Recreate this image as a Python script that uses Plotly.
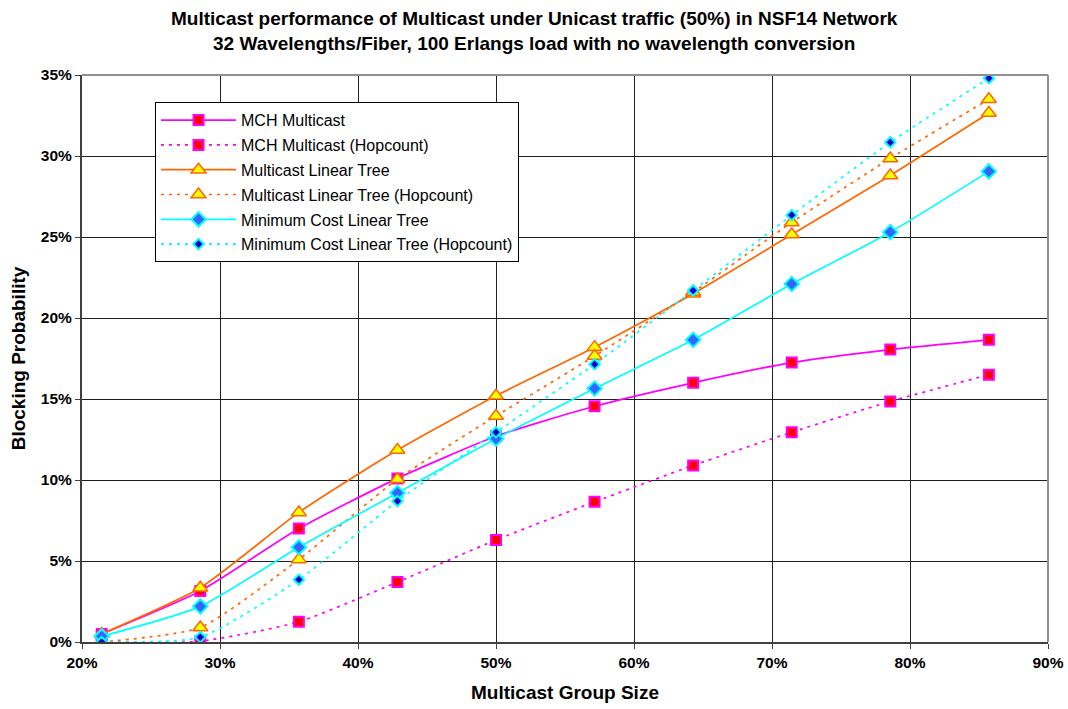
import plotly.graph_objects as go

# Multicast group size as a fraction of the 14 NSF nodes
group_size = [3/14, 4/14, 5/14, 6/14, 7/14, 8/14, 9/14, 10/14, 11/14, 12/14]

# Blocking probability (%) per algorithm
mch = [0.5, 3.15, 7.0, 10.1, 12.7, 14.55, 16.0, 17.25, 18.05, 18.65]
mch_hop = [0.0, 0.05, 1.25, 3.7, 6.3, 8.65, 10.9, 12.95, 14.85, 16.5]
mlt = [0.5, 3.35, 8.0, 11.85, 15.2, 18.2, 21.5, 25.15, 28.8, 32.65]
mlt_hop = [0.0, 0.9, 5.1, 10.05, 13.95, 17.65, 21.6, 25.9, 29.85, 33.5]
mclt = [0.35, 2.2, 5.85, 9.2, 12.55, 15.65, 18.65, 22.1, 25.3, 29.05]
mclt_hop = [0.0, 0.3, 3.85, 8.7, 12.95, 17.15, 21.7, 26.35, 30.85, 34.8]

x_ticks = [0.2, 0.3, 0.4, 0.5, 0.6, 0.7, 0.8, 0.9]
x_tick_text = ["20%", "30%", "40%", "50%", "60%", "70%", "80%", "90%"]
y_ticks = [0, 5, 10, 15, 20, 25, 30, 35]
y_tick_text = ["0%", "5%", "10%", "15%", "20%", "25%", "30%", "35%"]

title_lines = [
    "Multicast performance of Multicast under Unicast traffic (50%) in NSF14 Network",
    "32 Wavelengths/Fiber, 100 Erlangs load with no wavelength conversion",
]

FONT = "Liberation Sans, Arial, sans-serif"
DOTTED = "3px,5px"

series = [
    ("MCH Multicast", mch, "#FF00FF", "solid",
     dict(symbol="square", size=10, color="#FF0000", line=dict(color="#FF00FF", width=2))),
    ("MCH Multicast (Hopcount)", mch_hop, "#FF00FF", DOTTED,
     dict(symbol="square", size=10, color="#FF0000", line=dict(color="#FF00FF", width=2))),
    ("Multicast Linear Tree", mlt, "#FF6600", "solid",
     dict(symbol="triangle-up", size=13, color="#FFFF00", line=dict(color="#FF6600", width=1.5))),
    ("Multicast Linear Tree (Hopcount)", mlt_hop, "#FF6600", DOTTED,
     dict(symbol="triangle-up", size=13, color="#FFFF00", line=dict(color="#FF6600", width=1.5))),
    ("Minimum Cost Linear Tree", mclt, "#00FFFF", "solid",
     dict(symbol="diamond", size=11, color="#3366FF", line=dict(color="#00FFFF", width=2))),
    ("Minimum Cost Linear Tree (Hopcount)", mclt_hop, "#00FFFF", DOTTED,
     dict(symbol="diamond", size=8, color="#0000CC", line=dict(color="#00FFFF", width=2))),
]

fig = go.Figure()
for i, (name, vals, color, dash, marker) in enumerate(series):
    fig.add_trace(go.Scatter(
        x=group_size, y=vals, name=name, mode="lines+markers",
        line=dict(color=color, width=1.7, dash=dash, shape="spline", smoothing=0.6),
        marker=marker, legendgroup=f"g{i}",
    ))

fig.update_layout(
    width=1068, height=709,
    margin=dict(l=82, r=20, t=75, b=67),
    paper_bgcolor="white", plot_bgcolor="white",
    font=dict(family=FONT, color="black"),
    showlegend=True,
    legend=dict(
        x=0.0756, y=0.952, xanchor="left", yanchor="top",
        bgcolor="white", bordercolor="black", borderwidth=1,
        font=dict(size=16, family=FONT),
        tracegroupgap=1, itemwidth=75,
    ),
)

# Two-line bold title centred on the page
for text, ypx in zip(title_lines, [18, 44]):
    fig.add_annotation(
        text=f"<b>{text}</b>", xref="paper", yref="paper",
        x=(534 - 82) / 966, y=(642 - ypx) / 567,
        xanchor="center", yanchor="middle", showarrow=False,
        font=dict(size=19, family=FONT, color="black"),
    )

tick_font = dict(size=15.5, family=FONT, weight=700, color="black")

fig.update_xaxes(
    range=[0.2, 0.9], tickvals=x_ticks, ticktext=[f"<b>{t}</b>" for t in x_tick_text],
    tickfont=tick_font, ticks="outside", ticklen=5,
    tickcolor="#404040", showgrid=True, gridcolor="#202020", gridwidth=1,
    showline=True, linecolor="#404040", linewidth=2, mirror=False,
    zeroline=False, automargin=False,
    title=dict(text="<b>Multicast Group Size</b>", font=dict(size=19, family=FONT), standoff=16),
)
fig.update_yaxes(
    range=[0, 35], tickvals=y_ticks, ticktext=[f"<b>{t}</b>" for t in y_tick_text],
    tickfont=tick_font, ticks="outside", ticklen=5,
    tickcolor="#404040", showgrid=True, gridcolor="#202020", gridwidth=1,
    showline=True, linecolor="#404040", linewidth=2, mirror=False,
    zeroline=False, automargin=False,
    title=dict(text="<b>Blocking Probability</b>", font=dict(size=19, family=FONT), standoff=10),
)

# Light grey frame on the top and right edges of the plot area
fig.add_shape(type="line", xref="paper", yref="paper", x0=0, x1=1, y0=1, y1=1,
              line=dict(color="#909090", width=2))
fig.add_shape(type="line", xref="paper", yref="paper", x0=1, x1=1, y0=0, y1=1,
              line=dict(color="#909090", width=2))

fig.write_html("out.html")
